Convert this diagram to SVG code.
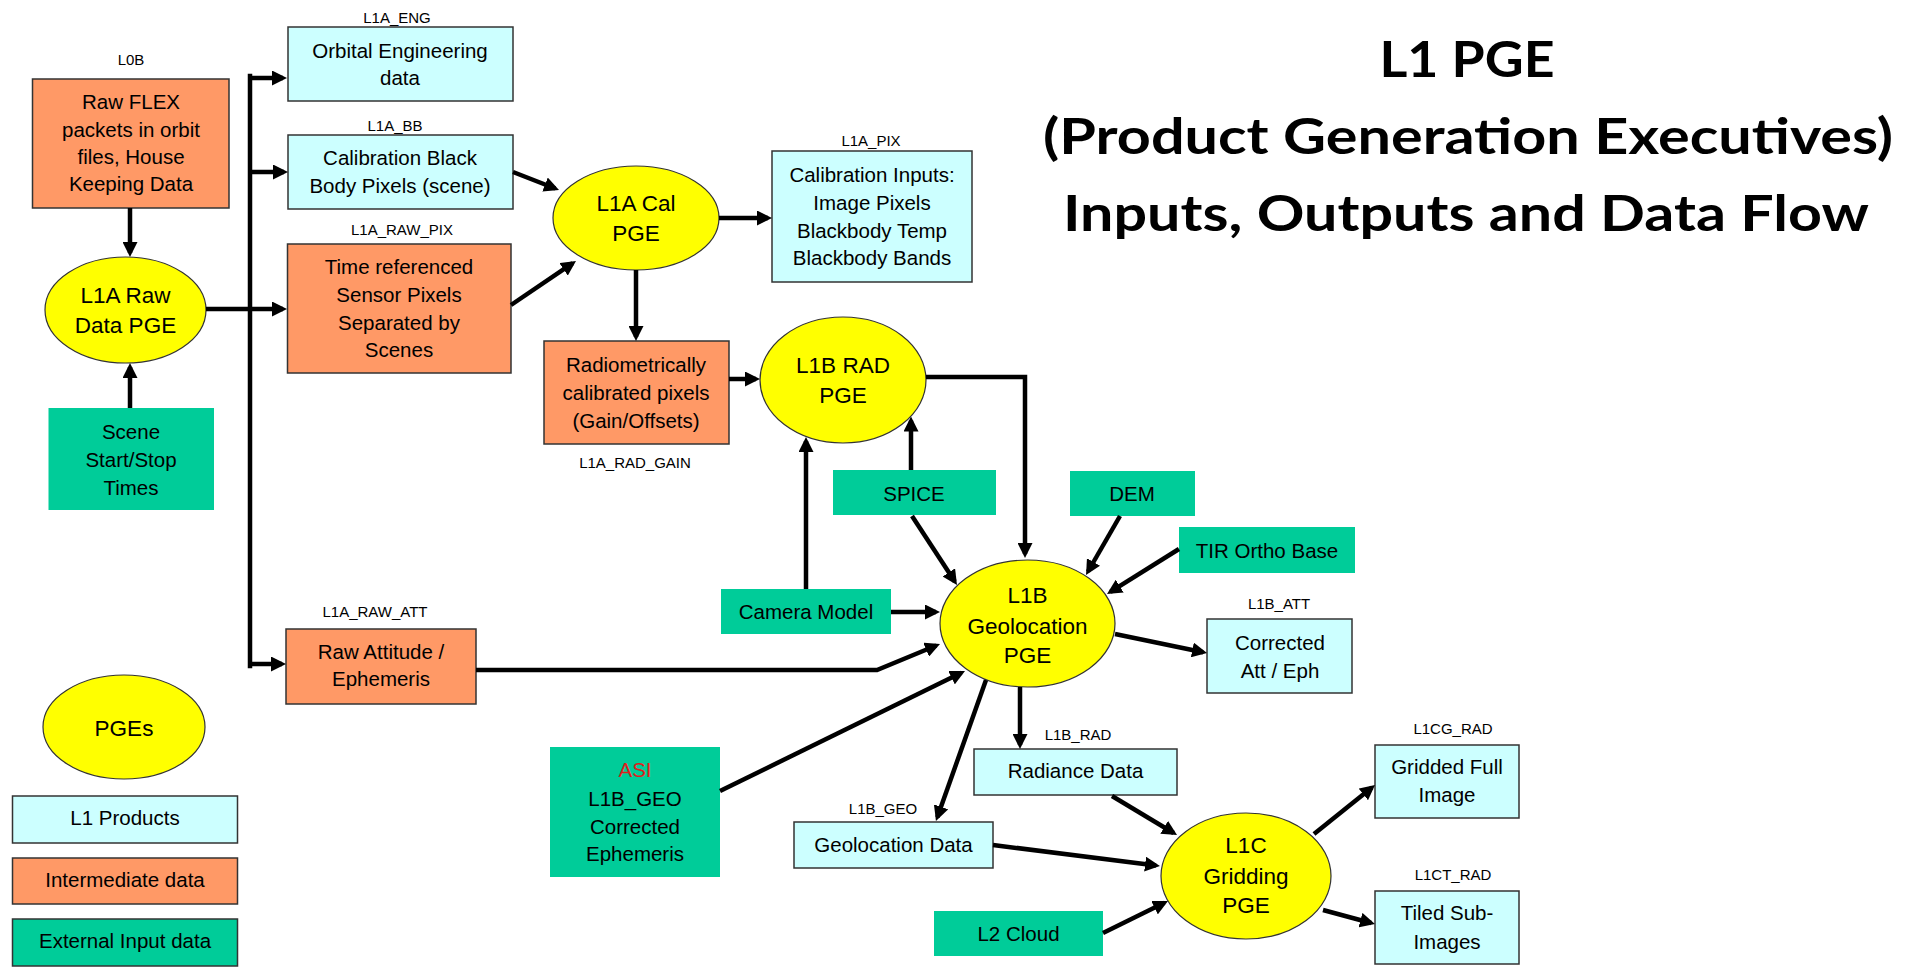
<svg xmlns="http://www.w3.org/2000/svg" width="1909" height="973" viewBox="0 0 1909 973">
  <defs>
    <marker id="ah" markerUnits="userSpaceOnUse" markerWidth="15" markerHeight="15" viewBox="0 0 15 15" refX="11" refY="7.5" orient="auto">
      <path d="M0,0 L15,7.5 L0,15 z" fill="#000"/>
    </marker>
    <style>
      .prod { fill: #CCFFFF; stroke: #333; stroke-width: 1.5; }
      .inter { fill: #FF9966; stroke: #333; stroke-width: 1.5; }
      .ext { fill: #00CC99; stroke: none; }
      .extb { fill: #00CC99; stroke: #333; stroke-width: 1.5; }
      .pge { fill: #FFFF00; stroke: #333; stroke-width: 1.2; }
      text { font-family: "Liberation Sans", Arial, sans-serif; fill: #000; text-anchor: middle; }
      .t { font-size: 20.5px; }
      .e { font-size: 22.5px; }
      .lbl { font-size: 15px; }
      .title { font-family: Lato, "Open Sans", sans-serif; font-weight: bold; font-size: 50px; }
      .c { fill: none; stroke: #000; stroke-width: 4.5; }
      .ca { fill: none; stroke: #000; stroke-width: 4.5; marker-end: url(#ah); }
    </style>
  </defs>
  <rect width="1909" height="973" fill="#fff"/>

  <!-- title -->
  <g id="title">
    <text class="title" x="1467" y="77" textLength="175" lengthAdjust="spacingAndGlyphs">L1 PGE</text>
    <text class="title" x="1468" y="154" textLength="850" lengthAdjust="spacingAndGlyphs">(Product Generation Executives)</text>
    <text class="title" x="1466" y="231" textLength="806" lengthAdjust="spacingAndGlyphs">Inputs, Outputs and Data Flow</text>
  </g>

  <!-- nodes -->
  <g id="raw-flex">
    <text class="lbl" x="131" y="64.5">L0B</text>
    <rect class="inter" x="32.5" y="79" width="196.5" height="129"/>
    <text class="t" x="131" y="109">Raw FLEX</text>
    <text class="t" x="131" y="137">packets in orbit</text>
    <text class="t" x="131" y="164">files, House</text>
    <text class="t" x="131" y="191">Keeping Data</text>
  </g>
  <g id="l1a-raw-pge">
    <ellipse class="pge" cx="125.5" cy="310" rx="80.5" ry="53"/>
    <text class="e" x="125.5" y="303">L1A Raw</text>
    <text class="e" x="125.5" y="333">Data PGE</text>
  </g>
  <g id="scene-times">
    <rect class="ext" x="48.5" y="408" width="165.5" height="102"/>
    <text class="t" x="131" y="439">Scene</text>
    <text class="t" x="131" y="467">Start/Stop</text>
    <text class="t" x="131" y="495">Times</text>
  </g>
  <g id="l1a-eng">
    <text class="lbl" x="397" y="22.5">L1A_ENG</text>
    <rect class="prod" x="288" y="27" width="225" height="74"/>
    <text class="t" x="400" y="58">Orbital Engineering</text>
    <text class="t" x="400" y="85">data</text>
  </g>
  <g id="l1a-bb">
    <text class="lbl" x="395" y="130.5">L1A_BB</text>
    <rect class="prod" x="288" y="135" width="225" height="74"/>
    <text class="t" x="400" y="165">Calibration Black</text>
    <text class="t" x="400" y="193">Body Pixels (scene)</text>
  </g>
  <g id="l1a-raw-pix">
    <text class="lbl" x="402" y="234.5">L1A_RAW_PIX</text>
    <rect class="inter" x="287.5" y="244" width="223.5" height="129"/>
    <text class="t" x="399" y="274">Time referenced</text>
    <text class="t" x="399" y="302">Sensor Pixels</text>
    <text class="t" x="399" y="330">Separated by</text>
    <text class="t" x="399" y="357">Scenes</text>
  </g>
  <g id="l1a-raw-att">
    <text class="lbl" x="375" y="616.5">L1A_RAW_ATT</text>
    <rect class="inter" x="286" y="629" width="190" height="75"/>
    <text class="t" x="381" y="659">Raw Attitude /</text>
    <text class="t" x="381" y="686">Ephemeris</text>
  </g>
  <g id="l1a-cal-pge">
    <ellipse class="pge" cx="636" cy="218" rx="83" ry="52"/>
    <text class="e" x="636" y="211">L1A Cal</text>
    <text class="e" x="636" y="241">PGE</text>
  </g>
  <g id="l1a-pix">
    <text class="lbl" x="871" y="145.5">L1A_PIX</text>
    <rect class="prod" x="772" y="151" width="200" height="131"/>
    <text class="t" x="872" y="182">Calibration Inputs:</text>
    <text class="t" x="872" y="210">Image Pixels</text>
    <text class="t" x="872" y="238">Blackbody Temp</text>
    <text class="t" x="872" y="265">Blackbody Bands</text>
  </g>
  <g id="l1a-rad-gain">
    <rect class="inter" x="544" y="341" width="185" height="103"/>
    <text class="t" x="636" y="372">Radiometrically</text>
    <text class="t" x="636" y="400">calibrated pixels</text>
    <text class="t" x="636" y="428">(Gain/Offsets)</text>
    <text class="lbl" x="635" y="468">L1A_RAD_GAIN</text>
  </g>
  <g id="l1b-rad-pge">
    <ellipse class="pge" cx="843" cy="380" rx="83" ry="63"/>
    <text class="e" x="843" y="373">L1B RAD</text>
    <text class="e" x="843" y="403">PGE</text>
  </g>
  <g id="spice">
    <rect class="ext" x="833" y="470" width="163" height="45"/>
    <text class="t" x="914" y="501">SPICE</text>
  </g>
  <g id="dem">
    <rect class="ext" x="1070" y="471" width="125" height="45"/>
    <text class="t" x="1132" y="501">DEM</text>
  </g>
  <g id="tir-ortho-base">
    <rect class="ext" x="1179" y="527" width="176" height="46"/>
    <text class="t" x="1267" y="558">TIR Ortho Base</text>
  </g>
  <g id="camera-model">
    <rect class="ext" x="721" y="589" width="170" height="45"/>
    <text class="t" x="806" y="619">Camera Model</text>
  </g>
  <g id="l1b-geo-pge">
    <ellipse class="pge" cx="1027.5" cy="623.5" rx="87.5" ry="63.5"/>
    <text class="e" x="1027.5" y="603">L1B</text>
    <text class="e" x="1027.5" y="634">Geolocation</text>
    <text class="e" x="1027.5" y="663">PGE</text>
  </g>
  <g id="l1b-att">
    <text class="lbl" x="1279" y="609">L1B_ATT</text>
    <rect class="prod" x="1207" y="619" width="145" height="74"/>
    <text class="t" x="1280" y="650">Corrected</text>
    <text class="t" x="1280" y="678">Att / Eph</text>
  </g>
  <g id="asi-ephemeris">
    <rect class="ext" x="550" y="747" width="170" height="130"/>
    <text class="t" x="635" y="777" style="fill:#E0201B">ASI</text>
    <text class="t" x="635" y="806">L1B_GEO</text>
    <text class="t" x="635" y="834">Corrected</text>
    <text class="t" x="635" y="861">Ephemeris</text>
  </g>
  <g id="l1b-geo">
    <text class="lbl" x="883" y="814">L1B_GEO</text>
    <rect class="prod" x="794" y="822" width="199" height="46"/>
    <text class="t" x="893.5" y="852">Geolocation Data</text>
  </g>
  <g id="l1b-rad">
    <text class="lbl" x="1078" y="740">L1B_RAD</text>
    <rect class="prod" x="974" y="749" width="203" height="46"/>
    <text class="t" x="1075.5" y="778">Radiance Data</text>
  </g>
  <g id="l2-cloud">
    <rect class="ext" x="934" y="911" width="169" height="45"/>
    <text class="t" x="1018.5" y="940.5">L2 Cloud</text>
  </g>
  <g id="l1c-gridding-pge">
    <ellipse class="pge" cx="1246" cy="876" rx="85" ry="63"/>
    <text class="e" x="1246" y="853">L1C</text>
    <text class="e" x="1246" y="884">Gridding</text>
    <text class="e" x="1246" y="913">PGE</text>
  </g>
  <g id="l1cg-rad">
    <text class="lbl" x="1453" y="734">L1CG_RAD</text>
    <rect class="prod" x="1375" y="745" width="144" height="73"/>
    <text class="t" x="1447" y="774">Gridded Full</text>
    <text class="t" x="1447" y="802">Image</text>
  </g>
  <g id="l1ct-rad">
    <text class="lbl" x="1453" y="880">L1CT_RAD</text>
    <rect class="prod" x="1375" y="891" width="144" height="73"/>
    <text class="t" x="1447" y="920">Tiled Sub-</text>
    <text class="t" x="1447" y="949">Images</text>
  </g>

  <!-- legend -->
  <g id="legend">
    <ellipse class="pge" cx="124" cy="727" rx="81" ry="52"/>
    <text class="e" x="124" y="736">PGEs</text>
    <rect class="prod" x="12.5" y="796" width="225" height="47"/>
    <text class="t" x="125" y="825">L1 Products</text>
    <rect class="inter" x="12.5" y="858" width="225" height="46"/>
    <text class="t" x="125" y="887">Intermediate data</text>
    <rect class="extb" x="12.5" y="919" width="225" height="47"/>
    <text class="t" x="125" y="948">External Input data</text>
  </g>

  <!-- connectors -->
  <g id="connectors">
    <line class="ca" x1="130" y1="208" x2="130" y2="253"/>
    <line class="ca" x1="130" y1="408" x2="130" y2="367"/>
    <line class="ca" x1="206" y1="309" x2="283" y2="309"/>
    <path class="c" d="M250,76 V666" stroke-linecap="square"/>
    <line class="ca" x1="248" y1="78" x2="283" y2="78"/>
    <line class="ca" x1="250" y1="172" x2="284" y2="172"/>
    <line class="ca" x1="248" y1="664" x2="282" y2="664"/>
    <line class="ca" x1="513" y1="172" x2="555.3" y2="188.5"/>
    <line class="ca" x1="511" y1="305" x2="572.7" y2="263.2"/>
    <line class="ca" x1="719" y1="218" x2="768" y2="218"/>
    <line class="ca" x1="636" y1="270" x2="636" y2="337"/>
    <line class="ca" x1="729" y1="379" x2="756" y2="379"/>
    <path class="ca" d="M926,377 H1025 V554"/>
    <line class="ca" x1="806" y1="589" x2="806" y2="441"/>
    <line class="ca" x1="911" y1="470" x2="911" y2="420.5"/>
    <line class="ca" x1="912" y1="516" x2="954.8" y2="581.6"/>
    <line class="ca" x1="891" y1="612" x2="936" y2="612"/>
    <path class="ca" d="M476,670 H877 L936.3,645.5"/>
    <line class="ca" x1="720" y1="791" x2="961.4" y2="672.8"/>
    <line class="ca" x1="1120" y1="516" x2="1088" y2="571.5"/>
    <line class="ca" x1="1179" y1="549" x2="1110.4" y2="591.9"/>
    <line class="ca" x1="1115" y1="634" x2="1203.1" y2="652.2"/>
    <line class="ca" x1="1020" y1="687" x2="1020" y2="745"/>
    <line class="ca" x1="986" y1="680" x2="937.3" y2="817.2"/>
    <line class="ca" x1="1112" y1="796" x2="1173.6" y2="833"/>
    <line class="ca" x1="993" y1="845" x2="1156" y2="865.5"/>
    <line class="ca" x1="1103" y1="933" x2="1164.4" y2="902.8"/>
    <line class="ca" x1="1314" y1="834" x2="1371.9" y2="787.5"/>
    <line class="ca" x1="1323" y1="910" x2="1371.1" y2="923"/>
  </g>
</svg>
